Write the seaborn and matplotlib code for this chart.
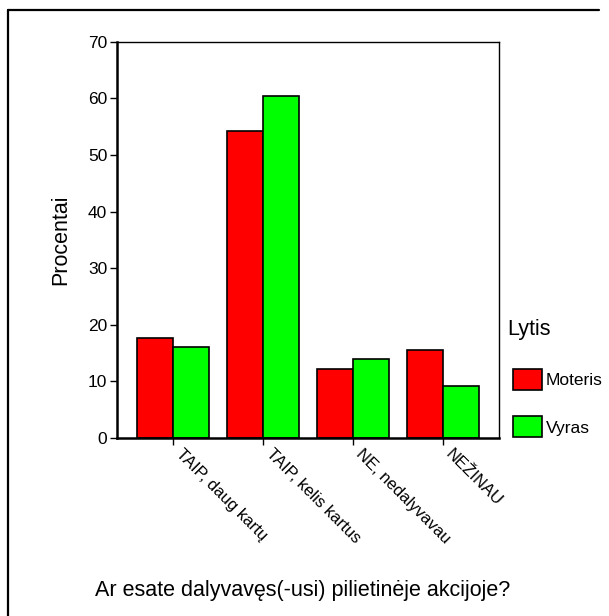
import pandas as pd
import matplotlib
matplotlib.use('Agg')
import matplotlib.pyplot as plt
import seaborn as sns
from matplotlib.patches import Patch
from matplotlib.lines import Line2D

# duomenys
kategorijos = ['TAIP, daug kartų', 'TAIP, kelis kartus', 'NE, nedalyvavau', 'NEŽINAU']
moteris = [17.6, 54.3, 12.2, 15.6]
vyras = [16.1, 60.5, 13.9, 9.1]
lytys = ['Moteris', 'Vyras']
spalvos = ['#FF0000', '#00FF00']

df = pd.DataFrame({
    'kategorija': kategorijos * 2,
    'procentai': moteris + vyras,
    'lytis': [lytys[0]] * 4 + [lytys[1]] * 4,
})

sns.set_theme(style='white')
plt.rcParams['font.family'] = ['Liberation Sans', 'DejaVu Sans']
for k in ['text.color', 'axes.labelcolor', 'xtick.color', 'ytick.color']:
    plt.rcParams[k] = 'black'

fig = plt.figure(figsize=(6.09, 6.16), dpi=100)
ax = fig.add_axes([0.192, 0.289, 0.627, 0.643])

sns.barplot(data=df, x='kategorija', y='procentai', hue='lytis', order=kategorijos,
            hue_order=lytys, palette=spalvos, width=0.8, edgecolor='black',
            linewidth=1.2, saturation=1, ax=ax, legend=False)

ax.set_ylim(0, 70)
ax.set_xlim(-0.625, 3.625)
ax.set_yticks(range(0, 71, 10))
ax.set_xticks(range(len(kategorijos)))
ax.set_xticklabels([''] * len(kategorijos))
# pasvirusios kategorijų etiketės
for i, kat in enumerate(kategorijos):
    ax.annotate(kat, xy=(i, 0), xycoords=('data', 'axes fraction'),
                xytext=(4, -10), textcoords='offset points', rotation=-45,
                ha='left', va='center', rotation_mode='anchor', fontsize=12)
ax.tick_params(axis='y', labelsize=12.5, length=5, width=1, direction='out', left=True, pad=2)
ax.tick_params(axis='x', length=5, width=1, direction='out', bottom=True)
ax.set_xlabel('')
ax.set_ylabel('Procentai', fontsize=15.5, labelpad=12)

for s in ['left', 'bottom']:
    ax.spines[s].set_linewidth(1.8)
for s in ['top', 'right']:
    ax.spines[s].set_linewidth(1.0)
for s in ax.spines.values():
    s.set_color('black')

fig.text(0.497, 0.042, 'Ar esate dalyvavęs(-usi) pilietinėje akcijoje?',
         ha='center', va='center', fontsize=15.5)

# legenda: pavadinimas atskirai
fig.text(507 / 609, 1 - 330 / 616, 'Lytis', ha='left', va='center', fontsize=15.5)
rankenos = [Patch(facecolor=c, edgecolor='black', linewidth=1.2) for c in spalvos]
leg = fig.legend(rankenos, lytys, loc='upper left',
                 bbox_to_anchor=(513 / 609, 1 - 369 / 616),
                 frameon=False, fontsize=12.5,
                 handlelength=1.65, handleheight=1.5, labelspacing=1.5,
                 handletextpad=0.25, borderaxespad=0, borderpad=0)

# išorinis rėmelis (tik viršus ir kairė matomi)
fig.add_artist(Line2D([0.0135, 0.0135], [0, 0.984], transform=fig.transFigure,
                      color='black', linewidth=1.6))
fig.add_artist(Line2D([0.0135, 0.984], [0.984, 0.984], transform=fig.transFigure,
                      color='black', linewidth=1.6))

fig.savefig('out.png', dpi=100, facecolor='white')
